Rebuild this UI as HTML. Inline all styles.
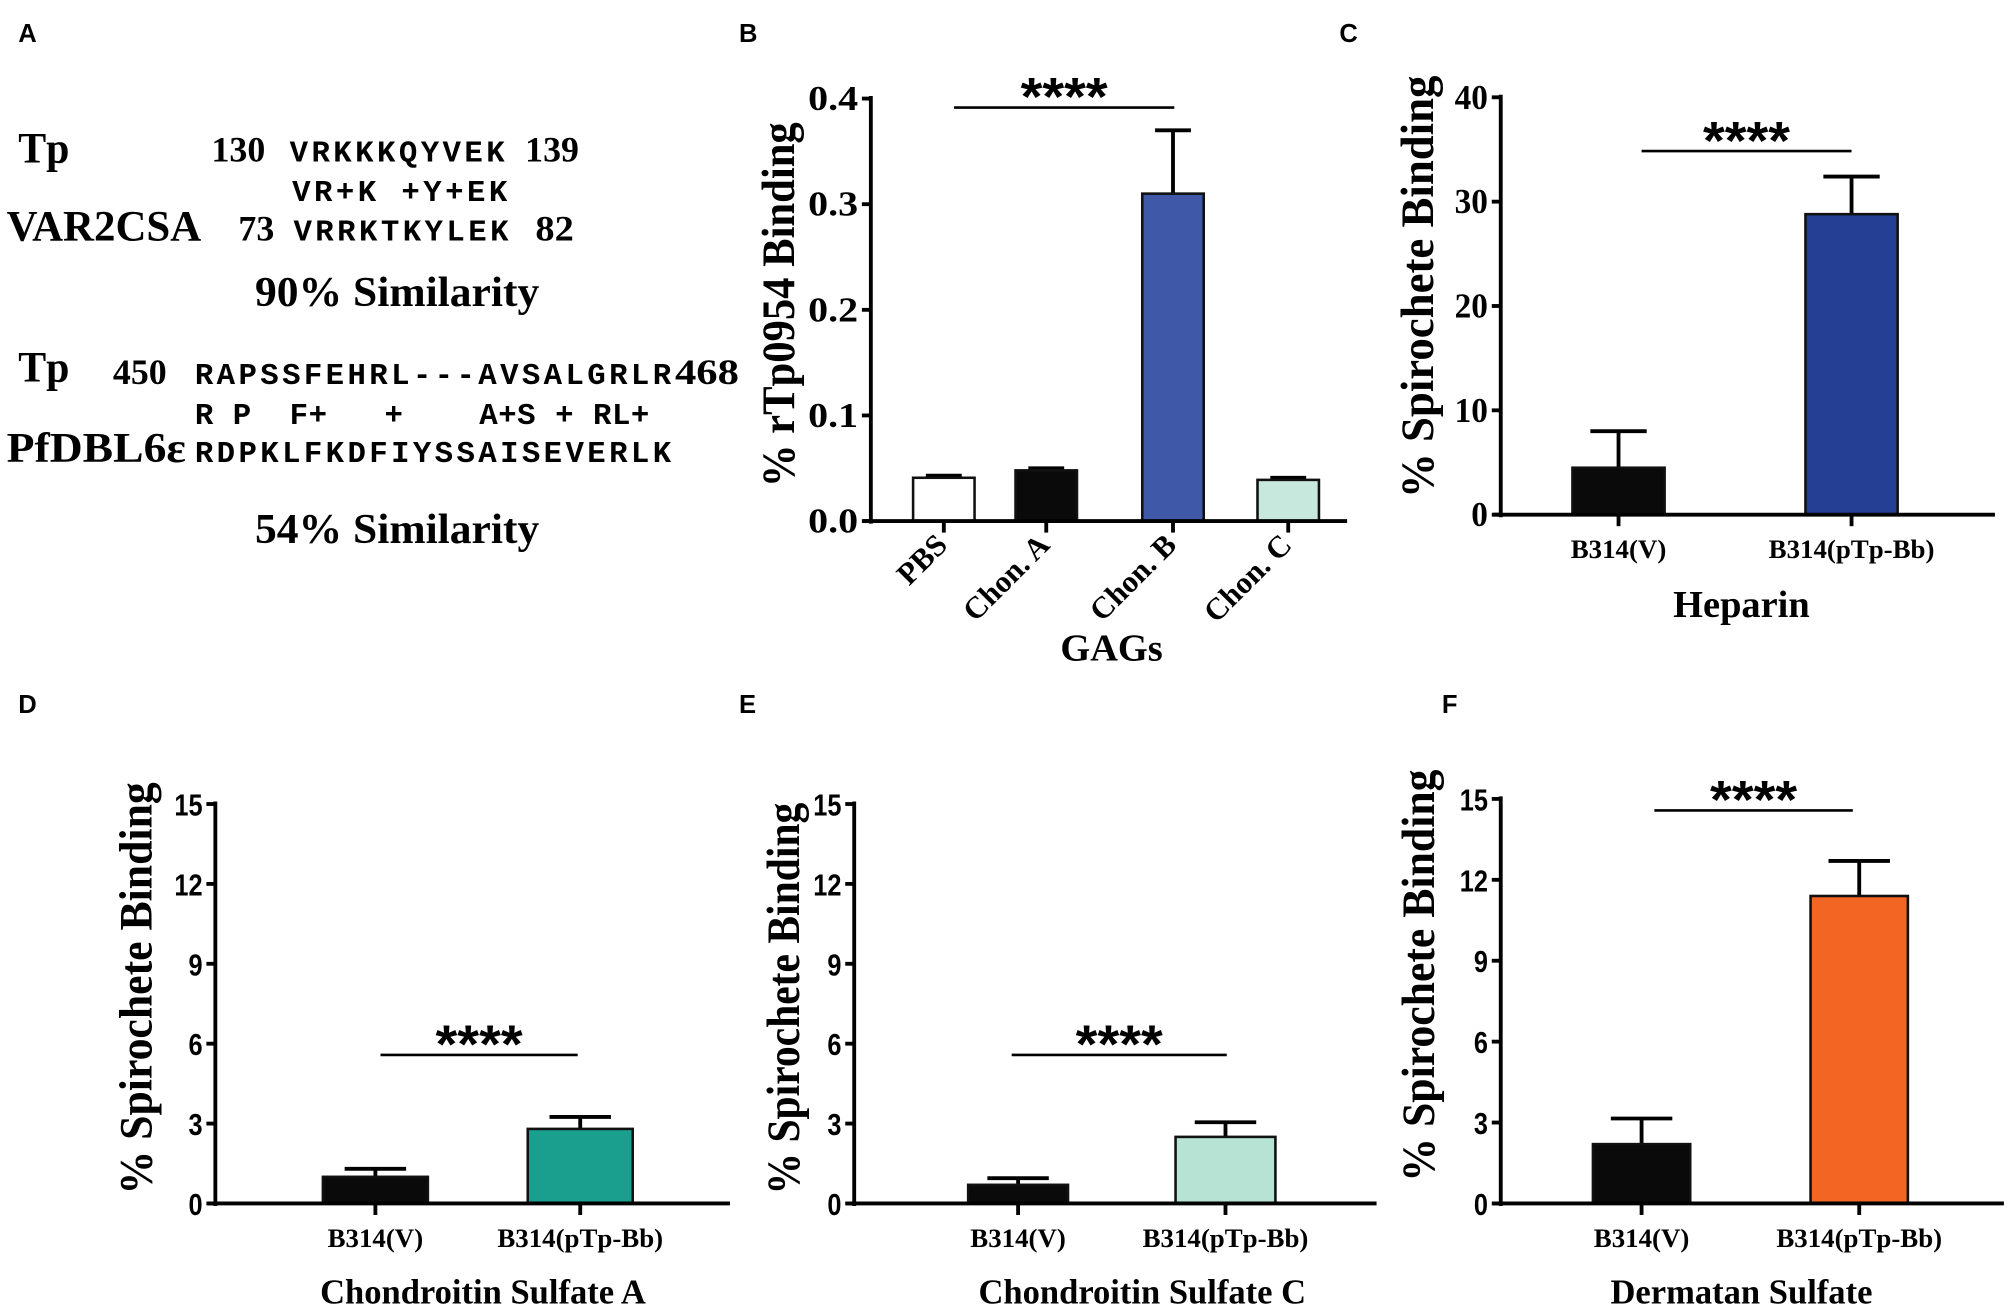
<!DOCTYPE html>
<html><head><meta charset="utf-8">
<style>
html,body{margin:0;padding:0;background:#fff;}
svg{display:block;}
.tb{font-family:"Liberation Serif",serif;font-weight:bold;fill:#000;}
.ss{font-family:"Liberation Sans",sans-serif;font-weight:bold;fill:#000;}
.mono{font-family:"Liberation Mono",monospace;font-weight:bold;fill:#000;}
</style></head>
<body>
<svg id="fig" xmlns="http://www.w3.org/2000/svg" width="2008" height="1311" viewBox="0 0 1568 1024">
<rect width="1568" height="1024" fill="#fff"/>
<g class="ss" font-size="20">
<text x="14" y="33">A</text>
<text x="577" y="33">B</text>
<text x="1046" y="33">C</text>
<text x="14" y="557">D</text>
<text x="577" y="557">E</text>
<text x="1126" y="557">F</text>
</g>
<g>
<text class="tb" x="14" y="127" font-size="34" textLength="40" lengthAdjust="spacingAndGlyphs">Tp</text>
<text class="tb" x="165" y="126" font-size="28" textLength="42" lengthAdjust="spacingAndGlyphs">130</text>
<text class="mono" x="226" y="126" font-size="24" textLength="168">VRKKKQYVEK</text>
<text class="tb" x="410" y="126" font-size="28" textLength="42" lengthAdjust="spacingAndGlyphs">139</text>
<text class="mono" x="228" y="157" font-size="24" textLength="168" xml:space="preserve">VR+K +Y+EK</text>
<text class="tb" x="5" y="188" font-size="34" textLength="152" lengthAdjust="spacingAndGlyphs">VAR2CSA</text>
<text class="tb" x="186" y="188" font-size="28" textLength="28" lengthAdjust="spacingAndGlyphs">73</text>
<text class="mono" x="229" y="188" font-size="24" textLength="168">VRRKTKYLEK</text>
<text class="tb" x="418" y="188" font-size="28" textLength="30" lengthAdjust="spacingAndGlyphs">82</text>
<text class="tb" x="310" y="239" font-size="33" text-anchor="middle" textLength="222" lengthAdjust="spacingAndGlyphs">90% Similarity</text>
<text class="tb" x="14" y="298" font-size="34" textLength="40" lengthAdjust="spacingAndGlyphs">Tp</text>
<text class="tb" x="88" y="300" font-size="28" textLength="42" lengthAdjust="spacingAndGlyphs">450</text>
<text class="mono" x="152" y="300" font-size="24" textLength="372">RAPSSFEHRL---AVSALGRLR</text>
<text class="tb" x="527" y="300" font-size="28" textLength="50" lengthAdjust="spacingAndGlyphs">468</text>
<text class="mono" x="152" y="331" font-size="24" xml:space="preserve" textLength="355">R P  F+   +    A+S + RL+</text>
<text class="tb" x="5" y="361" font-size="33" textLength="140" lengthAdjust="spacingAndGlyphs">PfDBL6ε</text>
<text class="mono" x="152" y="361" font-size="24" textLength="372">RDPKLFKDFIYSSAISEVERLK</text>
<text class="tb" x="310" y="424" font-size="33" text-anchor="middle" textLength="222" lengthAdjust="spacingAndGlyphs">54% Similarity</text>
</g>
<g id="charts"></g>
</svg>
<script>
// Panel B
const bCategories = ["PBS","Chon. A","Chon. B","Chon. C"];
const bValues = [0.041, 0.048, 0.31, 0.039];
const bErrors = [0.043, 0.050, 0.37, 0.041];
const bTicks = [0, 0.1, 0.2, 0.3, 0.4];
const bTickLabels = ["0.0","0.1","0.2","0.3","0.4"];
// Panel C
const cCategories = ["B314(V)","B314(pTp-Bb)"];
const cValues = [4.5, 28.8];
const cErrors = [8.0, 32.4];
const cTicks = [0,10,20,30,40];
// Panel D
const dCategories = ["B314(V)","B314(pTp-Bb)"];
const dValues = [1.0, 2.8];
const dErrors = [1.3, 3.25];
const dTicks = [0,3,6,9,12,15];
// Panel E
const eCategories = ["B314(V)","B314(pTp-Bb)"];
const eValues = [0.7, 2.5];
const eErrors = [0.95, 3.05];
const eTicks = [0,3,6,9,12,15];
// Panel F
const fCategories = ["B314(V)","B314(pTp-Bb)"];
const fValues = [2.2, 11.4];
const fErrors = [3.15, 12.7];
const fTicks = [0,3,6,9,12,15];

const NS = "http://www.w3.org/2000/svg";
const root = document.getElementById("charts");
function mk(tag, attrs, parent){
  const e = document.createElementNS(NS, tag);
  for (const k in attrs) e.setAttribute(k, attrs[k]);
  parent.appendChild(e);
  return e;
}
function chart(p){
  const g = mk("g", {}, root);
  
  
  const max = p.ticks[p.ticks.length-1];
  const y = v => p.y0 - (v/max)*(p.y0 - p.yTop);
  const x = i => p.centers[i];
  p.vals.forEach((v,i)=>{
    const eb = mk("line", {x1:x(i), x2:x(i), y1:y(v), y2:y(p.errs[i]), stroke:"#000","stroke-width":3}, g);
    
    
    const cap = mk("line", {x1:x(i)-p.cap, x2:x(i)+p.cap, y1:y(p.errs[i]), y2:y(p.errs[i]), stroke:"#000","stroke-width":3}, g);
    
    
    const r = mk("rect", {x:x(i)-p.bw/2, y:y(v), width:p.bw, height:p.y0-y(v), fill:p.colors[i], stroke:"#111","stroke-width":2}, g);
    
    
  });
  const ya = mk("line", {x1:p.x0, x2:p.x0, y1:p.yTop-2, y2:p.y0+2, stroke:"#000","stroke-width":3}, g);
  
  
  const xa = mk("line", {x1:p.x0-6, x2:p.xEnd, y1:p.y0, y2:p.y0, stroke:"#000","stroke-width":3}, g);
  
  
  p.ticks.forEach((t,i)=>{
    const tk = mk("line", {x1:p.x0-7, x2:p.x0, y1:y(t), y2:y(t), stroke:"#000","stroke-width":3}, g);
    
    
    const lab = p.tickLabels ? p.tickLabels[i] : String(t);
    const tl = mk("text", {x:p.x0-10, y:y(t)+9, "text-anchor":"end", "font-size":p.tickFs, class:p.tickClass,
      textLength: lab.length*p.charW, lengthAdjust:"spacingAndGlyphs"}, g);
    tl.textContent = lab;
    
    
  });
  p.cats.forEach((c,i)=>{
    const tk = mk("line", {x1:x(i), x2:x(i), y1:p.y0, y2:p.y0+9, stroke:"#000","stroke-width":3}, g);
    
    
    let tl;
    if (p.rotate){
      tl = mk("text", {x:x(i)+4, y:p.y0+20, "text-anchor":"end", "font-size":24, class:"tb", transform:`rotate(-45 ${x(i)+4} ${p.y0+20})`}, g);
    } else {
      tl = mk("text", {x:x(i), y:p.y0+34, "text-anchor":"middle", "font-size":21, class:"tb"}, g);
    }
    tl.textContent = c;
    
    
  });
  const yt = mk("text", {x:p.ytx, y:p.yty, "text-anchor":"middle", "font-size":36, class:"tb", transform:`rotate(-90 ${p.ytx} ${p.yty})`, "xml:space":"preserve", textLength:p.ytLen, lengthAdjust:"spacingAndGlyphs"}, g);
  yt.textContent = p.ytitle;
  
  
  const xt = mk("text", {x:p.xtx, y:p.xty, "text-anchor":"middle", "font-size":p.xtFs, class:"tb"}, g);
  xt.textContent = p.xtitle;
  
  
  const sl = mk("line", {x1:p.sig[0], x2:p.sig[1], y1:p.sigY, y2:p.sigY, stroke:"#000","stroke-width":2}, g);
  
  
  const st = mk("text", {x:(p.sig[0]+p.sig[1])/2, y:p.sigY+6, "text-anchor":"middle", "font-size":42, class:"ss", textLength:68, lengthAdjust:"spacingAndGlyphs"}, g);
  st.textContent = "****";
  
  
}
chart({name:"chart-b", cats:bCategories, vals:bValues, errs:bErrors, ticks:bTicks, tickLabels:bTickLabels,
  x0:680, xEnd:1052, y0:407, yTop:77, centers:[737,817,916,1006], bw:48, cap:14,
  colors:["#ffffff","#0a0a0a","#3f59a8","#c6e8dd"], tickFs:27, tickClass:"tb", charW:13, rotate:true,
  ytx:620, yty:238, ytLen:285, ytitle:"%  rTp0954 Binding", xtx:868, xty:516, xtitle:"GAGs", xtFs:30,
  sig:[745,917], sigY:84});
chart({name:"chart-c-heparin", cats:cCategories, vals:cValues, errs:cErrors, ticks:cTicks,
  x0:1172, xEnd:1558, y0:402, yTop:76, centers:[1264,1446], bw:72, cap:22,
  colors:["#0a0a0a","#243f94"], tickFs:27, tickClass:"tb", charW:13, rotate:false,
  ytx:1119, yty:224, ytLen:330, ytitle:"%  Spirochete Binding", xtx:1360, xty:482, xtFs:30, xtitle:"Heparin",
  sig:[1282,1446], sigY:118});
chart({name:"chart-d-csa", cats:dCategories, vals:dValues, errs:dErrors, ticks:dTicks,
  x0:168, xEnd:570, y0:940, yTop:628, centers:[293,453], bw:82, cap:24,
  colors:["#0a0a0a","#1a9e8e"], tickFs:24, tickClass:"ss", charW:11, rotate:false,
  ytx:118, yty:772, ytLen:322, ytitle:"%  Spirochete Binding", xtx:377, xty:1018, xtFs:27, xtitle:"Chondroitin Sulfate A",
  sig:[297,451], sigY:824});
chart({name:"chart-e-csc", cats:eCategories, vals:eValues, errs:eErrors, ticks:eTicks,
  x0:667, xEnd:1075, y0:940, yTop:628, centers:[795,957], bw:78, cap:24,
  colors:["#0a0a0a","#b6e3d4"], tickFs:24, tickClass:"ss", charW:11, rotate:false,
  ytx:624, yty:780, ytLen:306, ytitle:"%  Spirochete Binding", xtx:892, xty:1018, xtFs:27, xtitle:"Chondroitin Sulfate C",
  sig:[790,958], sigY:824});
chart({name:"chart-f-dermatan", cats:fCategories, vals:fValues, errs:fErrors, ticks:fTicks,
  x0:1172, xEnd:1565, y0:940, yTop:624, centers:[1282,1452], bw:76, cap:24,
  colors:["#0a0a0a","#f26522"], tickFs:24, tickClass:"ss", charW:11, rotate:false,
  ytx:1120, yty:762, ytLen:322, ytitle:"%  Spirochete Binding", xtx:1360, xty:1018, xtFs:27, xtitle:"Dermatan  Sulfate",
  sig:[1292,1447], sigY:633});
</script>
</body></html>
